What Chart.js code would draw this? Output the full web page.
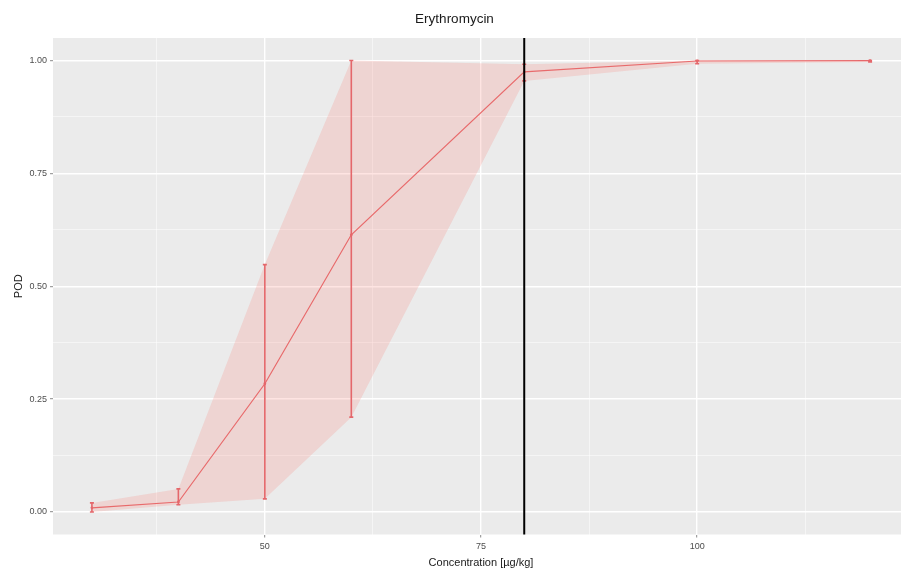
<!DOCTYPE html>
<html>
<head>
<meta charset="utf-8">
<title>Erythromycin POD</title>
<script src="https://cdn.jsdelivr.net/npm/chart.js@4/dist/chart.umd.min.js"></script>
<style>
  html, body { margin: 0; padding: 0; background: #ffffff; overflow: hidden; }
  #wrap { width: 901px; height: 577px; overflow: hidden; position: relative; }
  canvas { display: block; }
</style>
</head>
<body>
<div id="wrap"><canvas id="pod" width="962" height="577"></canvas></div>
<script>
// Concentration levels (µg/kg) and probability of detection with its interval
const concentrations = [30, 40, 50, 60, 80, 100, 120];
const podMean  = [0.009, 0.022, 0.284, 0.614, 0.975, 0.999, 1.000];
const podLower = [0.000, 0.016, 0.029, 0.210, 0.955, 0.993, 0.997];
const podUpper = [0.020, 0.051, 0.548, 1.000, 0.992, 1.000, 1.000];

// Reference concentration marked with a vertical line
const referenceConcentration = 80;

// Axis ticks (major are labelled, minor only get a thin grid line)
const xMajorTicks = [50, 75, 100];
const xMinorTicks = [37.5, 62.5, 87.5, 112.5];
const yMajorTicks = [0, 0.25, 0.5, 0.75, 1];
const yMinorTicks = [0.125, 0.375, 0.625, 0.875];

const chartTitle = 'Erythromycin';
const xTitle = 'Concentration [µg/kg]';
const yTitle = 'POD';

const RED = '#E4676B';
const PANEL = '#EBEBEB';
const FONT = '"Liberation Sans", Arial, Helvetica, sans-serif';

const points = arr => concentrations.map((c, i) => ({ x: c, y: arr[i] }));
const isIn = (list, v) => list.some(t => Math.abs(t - v) < 1e-9);

// grey panel behind the plotting area
const panelBackground = {
  id: 'panelBackground',
  beforeDraw(chart) {
    const { ctx, chartArea: a } = chart;
    ctx.save();
    ctx.fillStyle = '#ffffff';
    ctx.fillRect(0, 0, chart.width, chart.height);
    ctx.fillStyle = PANEL;
    ctx.fillRect(a.left, a.top, a.right - a.left, a.bottom - a.top);
    ctx.restore();
  }
};

// vertical error bars with short caps, then the reference line on top
const errorBarsAndReference = {
  id: 'errorBarsAndReference',
  afterDatasetsDraw(chart) {
    const { ctx, chartArea: a } = chart;
    const xs = chart.scales.x, ys = chart.scales.y;
    ctx.save();
    ctx.strokeStyle = RED;
    ctx.lineWidth = 1.6;
    concentrations.forEach((c, i) => {
      const px = xs.getPixelForValue(c);
      const y1 = ys.getPixelForValue(podLower[i]);
      const y2 = ys.getPixelForValue(podUpper[i]);
      ctx.beginPath();
      ctx.moveTo(px, y1); ctx.lineTo(px, y2);
      ctx.moveTo(px - 2, y1); ctx.lineTo(px + 2, y1);
      ctx.moveTo(px - 2, y2); ctx.lineTo(px + 2, y2);
      ctx.stroke();
    });
    const rx = xs.getPixelForValue(referenceConcentration);
    ctx.strokeStyle = '#000000';
    ctx.lineWidth = 2;
    ctx.beginPath();
    ctx.moveTo(rx, a.top);
    ctx.lineTo(rx, a.bottom);
    ctx.stroke();
    ctx.restore();
  }
};

const gridColor = majors => ctx => isIn(majors, ctx.tick.value) ? '#ffffff' : 'rgba(255,255,255,0.75)';
const gridWidth = majors => ctx => isIn(majors, ctx.tick.value) ? 1.4 : 0.7;
const tickColor = majors => ctx => isIn(majors, ctx.tick.value) ? '#8a8a8a' : 'rgba(0,0,0,0)';

new Chart(document.getElementById('pod'), {
  type: 'line',
  data: {
    datasets: [
      {
        label: 'upper',
        data: points(podUpper),
        borderWidth: 0,
        borderColor: 'rgba(0,0,0,0)',
        pointRadius: 0,
        backgroundColor: 'rgba(248,118,109,0.2)',
        fill: '+1',
        tension: 0
      },
      {
        label: 'lower',
        data: points(podLower),
        borderWidth: 0,
        borderColor: 'rgba(0,0,0,0)',
        pointRadius: 0,
        fill: false,
        tension: 0
      },
      {
        label: 'POD',
        data: points(podMean),
        borderColor: RED,
        borderWidth: 1.2,
        pointRadius: 1.4,
        pointBackgroundColor: RED,
        pointBorderWidth: 0,
        fill: false,
        tension: 0
      }
    ]
  },
  options: {
    responsive: false,
    animation: false,
    devicePixelRatio: 1,
    layout: { padding: { left: 0, right: 53, top: 0, bottom: 0 } },
    plugins: {
      legend: { display: false },
      tooltip: { enabled: false },
      title: {
        display: true,
        text: chartTitle,
        color: '#1a1a1a',
        font: { family: FONT, size: 13.5, weight: 'normal', lineHeight: 1.2 },
        padding: { top: 11, bottom: 10.8 }
      }
    },
    scales: {
      x: {
        type: 'linear',
        min: 25.5,
        max: 124.5,
        afterBuildTicks: s => { s.ticks = [...xMinorTicks, ...xMajorTicks].sort((a, b) => a - b).map(v => ({ value: v })); },
        afterFit: s => { s.height = 42.5; },
        border: { display: false },
        grid: {
          color: gridColor(xMajorTicks),
          lineWidth: gridWidth(xMajorTicks),
          tickColor: tickColor(xMajorTicks),
          tickWidth: 1,
          tickLength: 3,
          drawTicks: true
        },
        ticks: {
          autoSkip: false,
          maxRotation: 0,
          padding: 4,
          color: '#4d4d4d',
          font: { family: FONT, size: 9 },
          callback: v => isIn(xMajorTicks, v) ? String(v) : ''
        },
        title: {
          display: true,
          text: xTitle,
          color: '#1a1a1a',
          font: { family: FONT, size: 11, lineHeight: 1.2 },
          padding: { top: 0, bottom: 7.4 }
        }
      },
      y: {
        type: 'linear',
        min: -0.05,
        max: 1.05,
        afterBuildTicks: s => { s.ticks = [...yMinorTicks, ...yMajorTicks].sort((a, b) => a - b).map(v => ({ value: v })); },
        afterFit: s => { s.width = 53; },
        border: { display: false },
        grid: {
          color: gridColor(yMajorTicks),
          lineWidth: gridWidth(yMajorTicks),
          tickColor: tickColor(yMajorTicks),
          tickWidth: 1,
          tickLength: 3,
          drawTicks: true
        },
        ticks: {
          autoSkip: false,
          padding: 3,
          color: '#4d4d4d',
          font: { family: FONT, size: 9 },
          callback: v => isIn(yMajorTicks, v) ? v.toFixed(2) : ''
        },
        title: {
          display: true,
          text: yTitle,
          color: '#1a1a1a',
          font: { family: FONT, size: 11, lineHeight: 1.2 },
          padding: { top: 12.4, bottom: 0 }
        }
      }
    }
  },
  plugins: [panelBackground, errorBarsAndReference]
});
</script>
</body>
</html>
